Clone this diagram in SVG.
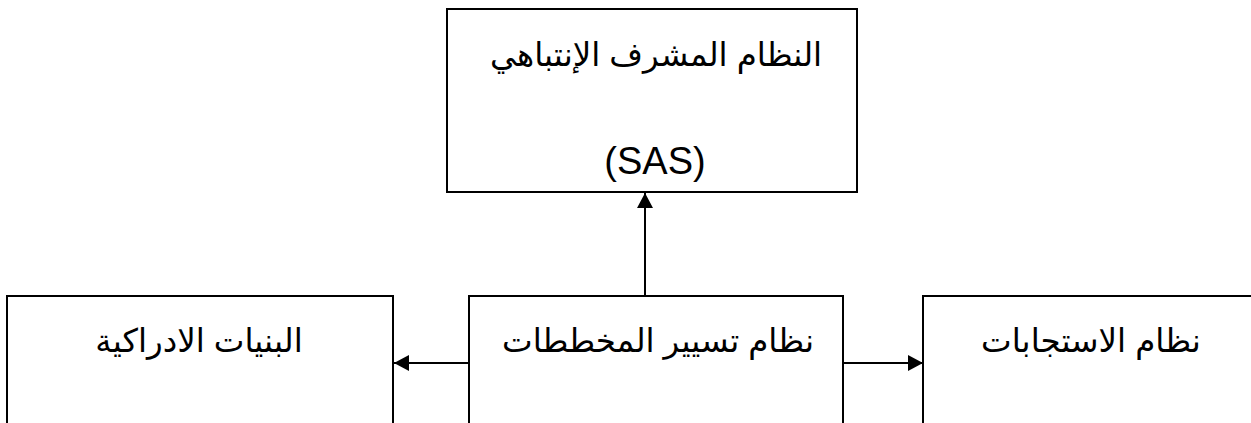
<svg xmlns="http://www.w3.org/2000/svg" width="1251" height="423" viewBox="0 0 1251 423">
<style>
.box{fill:#fff;stroke:#000;stroke-width:2}
.t{font-family:"Liberation Sans","DejaVu Sans",Arial,sans-serif;font-size:32.5px;fill:#000;text-anchor:middle}
.l{font-family:"Liberation Sans",Arial,sans-serif;font-size:38px;fill:#000;text-anchor:middle}
.c{stroke:#000;stroke-width:2;fill:none}
</style>
<defs>
<marker id="ah" viewBox="0 0 10 10" refX="10" refY="5" markerWidth="15" markerHeight="16" markerUnits="userSpaceOnUse" orient="auto" preserveAspectRatio="none">
<path d="M0,0 L10,5 L0,10 z" fill="#000"/>
</marker>
</defs>
<rect width="1251" height="423" fill="#fff"/>
<g id="node-sas">
<rect class="box" x="447" y="9" width="410" height="183"/>
<text class="t" x="656" y="66" direction="rtl">النظام المشرف الإنتباهي</text>
<text class="l" x="655" y="174">(SAS)</text>
</g>
<g id="node-perceptual">
<rect class="box" x="7" y="296" width="386" height="140"/>
<text class="t" x="199" y="352" direction="rtl">البنيات الادراكية</text>
</g>
<g id="node-schema">
<rect class="box" x="469" y="296" width="374" height="140"/>
<text class="t" x="658" y="352" direction="rtl">نظام تسيير المخططات</text>
</g>
<g id="node-responses">
<rect class="box" x="923" y="296" width="340" height="140"/>
<text class="t" x="1091" y="352" direction="rtl">نظام الاستجابات</text>
</g>
<g id="connectors">
<line class="c" x1="645" y1="296" x2="645" y2="193" marker-end="url(#ah)"/>
<line class="c" x1="469" y1="363" x2="394" y2="363" marker-end="url(#ah)"/>
<line class="c" x1="843" y1="363" x2="923" y2="363" marker-end="url(#ah)"/>
</g>
</svg>
